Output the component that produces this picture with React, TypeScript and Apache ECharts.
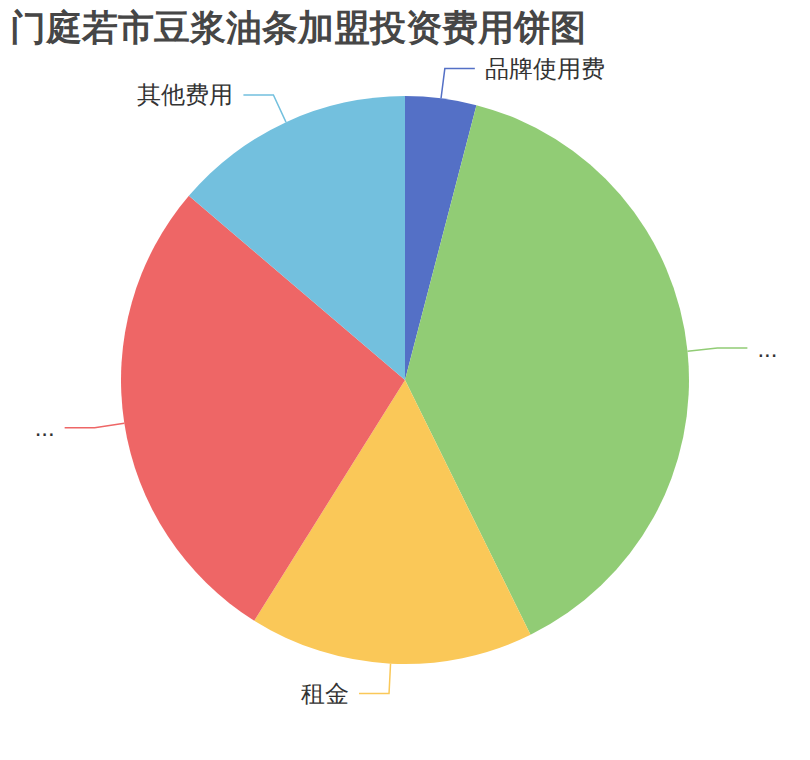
import React, { useEffect, useRef } from "react";
import * as echarts from "echarts";

const titleText = "门庭若市豆浆油条加盟投资费用饼图";
const categories = ["品牌使用费", "设备装修费用", "租金", "加盟管理费用", "其他费用"];
const values = [1, 9.55, 4, 6.75, 3.4];
const palette = ["#5470c6", "#91cc75", "#fac858", "#ee6666", "#73c0de"];

export default function App() {
  const ref = useRef<HTMLDivElement>(null);
  useEffect(() => {
    if (!ref.current) return;
    const chart = echarts.init(ref.current, undefined, { renderer: "svg" });
    chart.setOption({
      animation: false,
      color: palette,
      title: {
        text: titleText,
        left: -3,
        top: -4,
        textStyle: { fontSize: 36, fontWeight: "bold", color: "#464646" },
      },
      series: [
        {
          type: "pie",
          radius: 284,
          center: ["50%", "50%"],
          startAngle: 90,
          clockwise: true,
          data: categories.map((name, i) => ({ name, value: values[i] })),
          label: {
            show: true,
            position: "outer",
            fontSize: 24,
            color: "#333",
            distanceToLabelLine: 10,
            bleedMargin: 10,
          },
          labelLine: {
            show: true,
            length: 30,
            length2: 30,
            smooth: false,
            lineStyle: { width: 1.5 },
          },
          itemStyle: { borderWidth: 0 },
        },
      ],
    });
    return () => chart.dispose();
  }, []);
  return <div ref={ref} style={{ width: 794, height: 744 }} />;
}
